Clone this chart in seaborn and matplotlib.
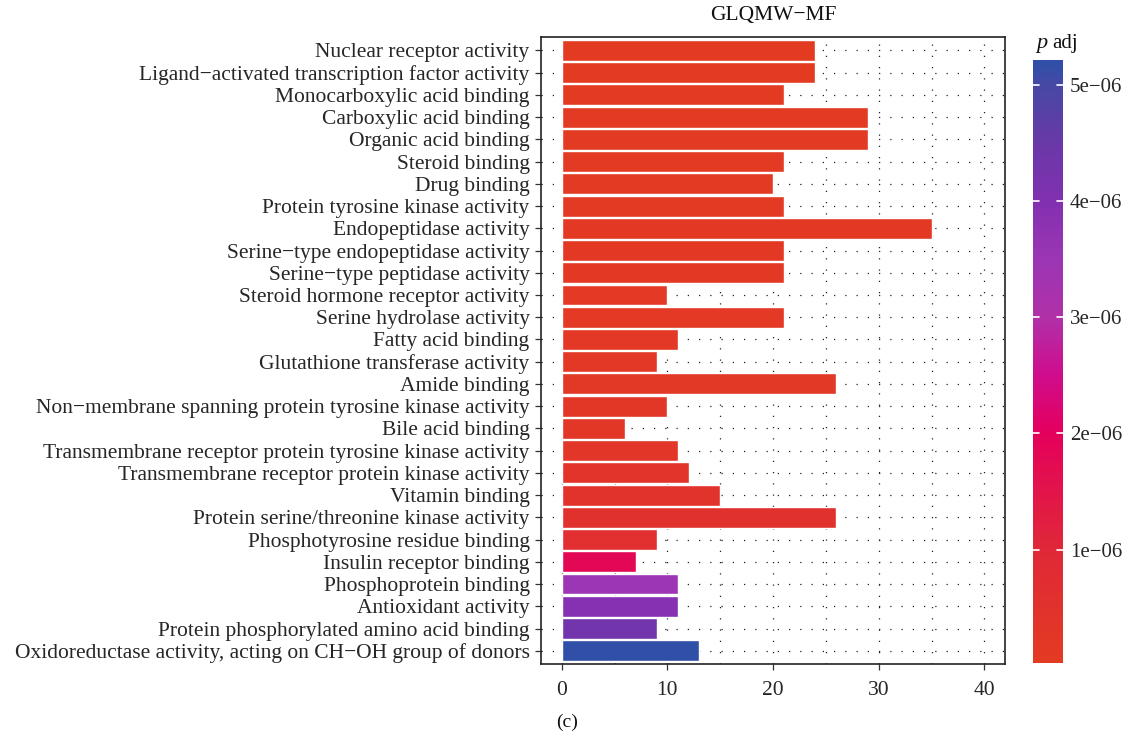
import numpy as np
import pandas as pd
import matplotlib
matplotlib.use("Agg")
import matplotlib.pyplot as plt
from matplotlib.colors import LinearSegmentedColormap, Normalize
from matplotlib.ticker import MultipleLocator
import seaborn as sns

terms = [
    "Nuclear receptor activity",
    "Ligand\u2212activated transcription factor activity",
    "Monocarboxylic acid binding",
    "Carboxylic acid binding",
    "Organic acid binding",
    "Steroid binding",
    "Drug binding",
    "Protein tyrosine kinase activity",
    "Endopeptidase activity",
    "Serine\u2212type endopeptidase activity",
    "Serine\u2212type peptidase activity",
    "Steroid hormone receptor activity",
    "Serine hydrolase activity",
    "Fatty acid binding",
    "Glutathione transferase activity",
    "Amide binding",
    "Non\u2212membrane spanning protein tyrosine kinase activity",
    "Bile acid binding",
    "Transmembrane receptor protein tyrosine kinase activity",
    "Transmembrane receptor protein kinase activity",
    "Vitamin binding",
    "Protein serine/threonine kinase activity",
    "Phosphotyrosine residue binding",
    "Insulin receptor binding",
    "Phosphoprotein binding",
    "Antioxidant activity",
    "Protein phosphorylated amino acid binding",
    "Oxidoreductase activity, acting on CH\u2212OH group of donors",
]
counts = [24, 24, 21, 29, 29, 21, 20, 21, 35, 21, 21, 10, 21, 11, 9, 26,
          10, 6, 11, 12, 15, 26, 9, 7, 11, 11, 9, 13]
p_adj = [2.5e-08, 3.0e-08, 4.0e-08, 5.0e-08, 5.0e-08, 6.0e-08, 7.0e-08,
         8.0e-08, 9.0e-08, 1.0e-07, 1.1e-07, 1.3e-07, 1.4e-07, 1.6e-07,
         1.8e-07, 2.0e-07, 2.3e-07, 2.6e-07, 3.0e-07, 3.6e-07, 4.8e-07,
         5.2e-07, 6.0e-07, 1.8e-06, 3.5e-06, 3.9e-06, 4.3e-06, 5.2e-06]

cbar_ticks = [1e-06, 2e-06, 3e-06, 4e-06, 5e-06]
cbar_labels = ["1e\u221206", "2e\u221206", "3e\u221206", "4e\u221206", "5e\u221206"]

df = pd.DataFrame({"term": terms, "count": counts, "p": p_adj})

sns.set_style("white")
plt.rcParams["font.family"] = ["Liberation Serif", "DejaVu Serif"]
plt.rcParams["text.color"] = "#111111"

# red -> magenta -> purple -> blue gradient for adjusted p
pmin, pmax = min(p_adj), max(p_adj)
stops = [(0.0, "#E33B22"), (1e-06, "#E02838"), (2e-06, "#E4005C"),
         (2.5e-06, "#D00C8C"), (3e-06, "#B030A8"), (3.5e-06, "#9C36B4"),
         (4e-06, "#8230B0"), (4.5e-06, "#6A38A8"), (5e-06, "#4848A4"),
         (5.2e-06, "#3050A8")]
cmap = LinearSegmentedColormap.from_list(
    "padj", [(v / pmax, c) for v, c in stops])
cnorm = Normalize(vmin=0.0, vmax=pmax)
bar_colors = [cmap(cnorm(v)) for v in p_adj]

fig = plt.figure(figsize=(11.31, 7.42), dpi=100)
ax = fig.add_axes([0.478, 0.105, 0.411, 0.845])

sns.barplot(data=df, y="term", x="count", hue="term", palette=bar_colors,
            order=terms, hue_order=terms, width=0.94, legend=False,
            saturation=1, ax=ax, zorder=3)

ax.set_xlim(-2, 42)
ax.set_ylim(len(terms) - 0.4, -0.6)
ax.xaxis.set_major_locator(MultipleLocator(10))
ax.xaxis.set_minor_locator(MultipleLocator(5))
ax.grid(True, which="both", axis="x", color="#222222", linestyle=(0, (1, 8)),
        linewidth=0.9, zorder=0)
ax.grid(True, which="major", axis="y", color="#222222", linestyle=(0, (1, 8)),
        linewidth=0.9, zorder=0)
ax.set_axisbelow(True)

for s in ax.spines.values():
    s.set_visible(True)
    s.set_color("#222222")
    s.set_linewidth(1.2)

ax.tick_params(axis="both", which="major", direction="out", length=4,
               width=0.9, color="#333333", labelsize=15.5, left=True, bottom=True)
ax.tick_params(axis="x", which="minor", length=0)
ax.tick_params(axis="y", pad=4)
ax.tick_params(axis="x", pad=8)
ax.set_xlabel("")
ax.set_ylabel("")
ax.set_title("GLQMW\u2212MF", fontsize=15.5, pad=12)

# colour bar
cmax = 5.21e-06
cax = fig.add_axes([0.913, 0.1065, 0.027, 0.8125])
bar_cmap = LinearSegmentedColormap.from_list(
    "padj_bar", [cmap(cnorm(v)) for v in np.linspace(pmin, cmax, 256)])
sm = matplotlib.cm.ScalarMappable(norm=Normalize(vmin=pmin, vmax=cmax),
                                  cmap=bar_cmap)
cb = fig.colorbar(sm, cax=cax)
cb.outline.set_visible(False)
cb.set_ticks(cbar_ticks)
cb.set_ticklabels(cbar_labels)
cax.tick_params(axis="y", which="both", length=0, labelsize=15, pad=5)
for t in cbar_ticks:
    cax.axhline(t, xmin=0.0, xmax=0.2, color="white", linewidth=1.2)
    cax.axhline(t, xmin=0.8, xmax=1.0, color="white", linewidth=1.2)

fig.text(0.916, 0.928, "p", style="italic", ha="left", va="bottom", fontsize=16)
fig.text(0.930, 0.928, "adj", ha="left", va="bottom", fontsize=15)

fig.text(0.501, 0.026, "(c)", ha="center", va="center", fontsize=14)

fig.savefig("out.png", dpi=100)
